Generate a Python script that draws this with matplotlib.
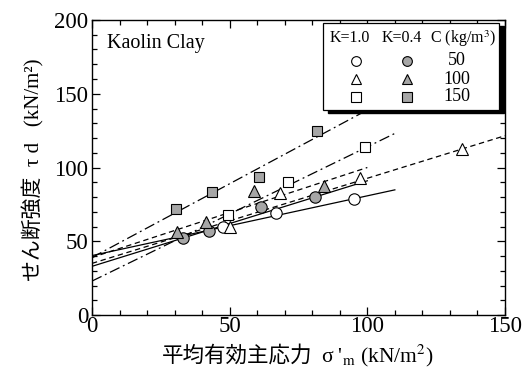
import numpy as np
import matplotlib
matplotlib.use("Agg")
import matplotlib.pyplot as plt
from matplotlib.patches import Rectangle
from matplotlib.ticker import MultipleLocator

plt.rcParams["font.family"] = ["Liberation Serif", "Noto Sans CJK JP"]
plt.rcParams["mathtext.fontset"] = "stix"

# measured points: sigma'_m (x) and tau_d (y)
k10_c50_x = [47.7, 66.8, 95.2]
k10_c50_y = [59.5, 69.2, 78.6]
k04_c50_x = [32.9, 42.6, 61.3, 81.0]
k04_c50_y = [52.0, 56.9, 73.0, 79.8]
k10_c100_x = [50.1, 68.3, 97.3, 134.3]
k10_c100_y = [59.5, 82.5, 93.1, 112.3]
k04_c100_x = [31.0, 41.4, 58.8, 84.4]
k04_c100_y = [56.5, 63.3, 84.1, 87.7]
k10_c150_x = [49.3, 71.3, 99.3]
k10_c150_y = [67.8, 90.4, 113.7]
k04_c150_x = [30.5, 43.7, 60.7, 81.6]
k04_c150_y = [71.7, 83.6, 93.8, 124.9]

# fitted lines: intercept, slope, x end
fit_intercept = [40.3, 33.0, 35.0, 39.0, 23.0, 39.0]
fit_slope = [0.405, 0.58, 0.577, 0.61, 0.91, 1.0]
fit_xmax = [110, 100, 150, 100, 110, 110]

legend_c = ["50", "100", "150"]

GRAY = "#a6a6a6"
dash = (0, (4.3, 2.9))
dashdot = (0, (8.5, 3, 1.5, 3))
styles = ["-", "-", dash, dash, dashdot, dashdot]

fig = plt.figure(figsize=(5.25, 3.71), dpi=100)
ax = fig.add_axes([0.1752, 0.1509, 0.7867, 0.7952])

for a, b, xm, ls in zip(fit_intercept, fit_slope, fit_xmax, styles):
    xx = np.array([0, xm])
    ax.plot(xx, a + b * xx, color="black", lw=0.9, linestyle=ls, zorder=2)

sets = [
    (k10_c50_x, k10_c50_y, "o", "white", 8.2),
    (k04_c50_x, k04_c50_y, "o", GRAY, 8.2),
    (k10_c100_x, k10_c100_y, "^", "white", 9.0),
    (k04_c100_x, k04_c100_y, "^", GRAY, 9.0),
    (k10_c150_x, k10_c150_y, "s", "white", 7.8),
    (k04_c150_x, k04_c150_y, "s", GRAY, 7.8),
]
for xs, ys, m, fc, ms in sets:
    ax.plot(xs, ys, linestyle="none", marker=m, ms=ms, mfc=fc, mec="black",
            mew=0.8, zorder=3)

ax.set_xlim(0, 150)
ax.set_ylim(0, 200)
ax.xaxis.set_major_locator(MultipleLocator(50))
ax.xaxis.set_minor_locator(MultipleLocator(10))
ax.yaxis.set_major_locator(MultipleLocator(50))
ax.yaxis.set_minor_locator(MultipleLocator(10))
ax.tick_params(which="both", direction="in", top=True, right=True, labelsize=16.5)
ax.tick_params(which="major", length=5.5, width=0.9)
ax.tick_params(which="minor", length=3.5, width=0.9)
ax.tick_params(axis="x", pad=0.5)
ax.tick_params(axis="y", pad=2.5)
for s in ax.spines.values():
    s.set_linewidth(1.0)

# axis labels (CJK part kept out of mathtext so the font fallback works)
fig.text(312 / 525, 1 - 362 / 371, "平均有効主応力", fontsize=15.5,
         ha="right", va="baseline")
fig.text(321 / 525, 1 - 362 / 371, "σ '$_{\\mathrm{m}}$ (kN/m$^2$)", fontsize=15.5,
         ha="left", va="baseline")
fig.text(33 / 525, 1 - 170 / 371, "せん断強度  τ d   (kN/m²)", fontsize=15,
         rotation=90, ha="center", va="center")

ax.text(0.036, 0.921, "Kaolin Clay", transform=ax.transAxes, fontsize=14.5,
        ha="left", va="center")

# legend box with shadow
x0, x1, y0, y1 = 0.5586, 0.9855, 0.6949, 0.9908
ax.add_patch(Rectangle((x0 + 0.012, y0 - 0.011), x1 - x0, y1 - y0,
                       transform=ax.transAxes, facecolor="black",
                       edgecolor="black", zorder=5, clip_on=False))
ax.add_patch(Rectangle((x0, y0), x1 - x0, y1 - y0, transform=ax.transAxes,
                       facecolor="white", edgecolor="black", lw=0.9, zorder=6,
                       clip_on=False))
ax.text(0.6247, 0.938, "K=1.0", transform=ax.transAxes, fontsize=11.5,
        ha="center", va="center", zorder=7)
ax.text(0.750, 0.938, "K=0.4", transform=ax.transAxes, fontsize=11.5,
        ha="center", va="center", zorder=7)
ax.text(0.898, 0.938, "C (kg/m$^3$)", transform=ax.transAxes, fontsize=11.5,
        ha="center", va="center", zorder=7)
rows_y = [0.862, 0.800, 0.740]
for (m, ms), ry, lab in zip([("o", 7.0), ("^", 7.5), ("s", 6.6)], rows_y, legend_c):
    ax.plot([0.639], [ry], transform=ax.transAxes, marker=m, ms=ms, mfc="white",
            mec="black", mew=0.8, linestyle="none", zorder=7, clip_on=False)
    ax.plot([0.762], [ry], transform=ax.transAxes, marker=m, ms=ms, mfc=GRAY,
            mec="black", mew=0.8, linestyle="none", zorder=7, clip_on=False)
    ax.text(0.883, ry, lab, transform=ax.transAxes, fontsize=13,
            ha="center", va="center", zorder=7)

fig.savefig("out.png", dpi=100)
